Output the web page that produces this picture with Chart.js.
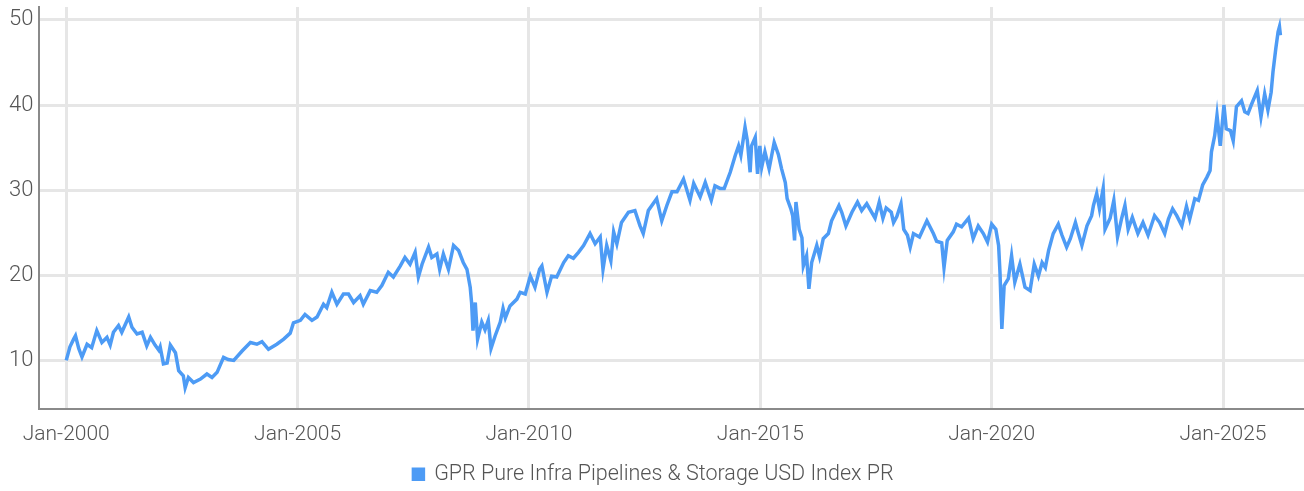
<!DOCTYPE html>
<html>
<head>
<meta charset="utf-8">
<script src="https://cdn.jsdelivr.net/npm/chart.js@4.4.1/dist/chart.umd.min.js"></script>
<style>
  html, body { margin: 0; padding: 0; background: #fff; }
  #wrap { width: 1304px; height: 491px; }
</style>
</head>
<body>
<div id="wrap"><canvas id="chart-line" width="1304" height="491"></canvas></div>
<script>
// Datos (año decimal, valor del índice)
const seriesName = 'GPR Pure Infra Pipelines & Storage USD Index PR';

const years = [
  2000.00, 2000.08, 2000.16, 2000.20, 2000.27, 2000.34, 2000.45, 2000.55, 2000.66, 2000.77, 2000.88, 2000.95,
  2001.02, 2001.13, 2001.20, 2001.35, 2001.42, 2001.53, 2001.64, 2001.74, 2001.82, 2001.92,
  2002.00, 2002.03, 2002.10, 2002.18, 2002.25, 2002.36, 2002.43, 2002.53, 2002.57, 2002.64, 2002.75, 2002.90,
  2003.04, 2003.15, 2003.26, 2003.40, 2003.50, 2003.62, 2003.80, 2003.98,
  2004.12, 2004.23, 2004.37, 2004.55, 2004.70, 2004.84, 2004.91,
  2005.06, 2005.16, 2005.31, 2005.42, 2005.56, 2005.63, 2005.74, 2005.85, 2005.99,
  2006.10, 2006.21, 2006.35, 2006.42, 2006.57, 2006.71, 2006.82, 2006.96,
  2007.07, 2007.22, 2007.32, 2007.43, 2007.54, 2007.61, 2007.69, 2007.83, 2007.90,
  2008.01, 2008.07, 2008.15, 2008.26, 2008.37, 2008.48, 2008.58, 2008.66, 2008.73, 2008.76, 2008.79, 2008.84, 2008.89, 2008.98,
  2009.05, 2009.12, 2009.18, 2009.27, 2009.38, 2009.44, 2009.49, 2009.59, 2009.74, 2009.81, 2009.92,
  2010.03, 2010.13, 2010.23, 2010.28, 2010.39, 2010.49, 2010.60, 2010.75, 2010.85, 2010.96,
  2011.07, 2011.18, 2011.32, 2011.43, 2011.54, 2011.60, 2011.68, 2011.77, 2011.83, 2011.90,
  2012.00, 2012.15, 2012.29, 2012.40, 2012.47, 2012.58, 2012.76, 2012.87, 2012.98,
  2013.09, 2013.20, 2013.34, 2013.48, 2013.56, 2013.70, 2013.81, 2013.94,
  2014.02, 2014.13, 2014.22, 2014.35, 2014.46, 2014.53, 2014.58, 2014.67, 2014.72, 2014.78, 2014.81, 2014.89, 2014.94, 2014.99,
  2015.03, 2015.10, 2015.19, 2015.30, 2015.39, 2015.46, 2015.54, 2015.58, 2015.66, 2015.70, 2015.74, 2015.77, 2015.84, 2015.90, 2015.93,
  2016.00, 2016.05, 2016.11, 2016.22, 2016.28, 2016.36, 2016.47, 2016.54, 2016.70, 2016.76, 2016.85, 2016.98,
  2017.10, 2017.19, 2017.30, 2017.48, 2017.57, 2017.65, 2017.72, 2017.83, 2017.88, 2017.95,
  2018.04, 2018.10, 2018.18, 2018.24, 2018.31, 2018.44, 2018.60, 2018.74, 2018.81, 2018.92, 2018.97,
  2019.04, 2019.17, 2019.24, 2019.35, 2019.50, 2019.60, 2019.71, 2019.82, 2019.91,
  2020.00, 2020.09, 2020.15, 2020.18, 2020.22, 2020.27, 2020.36, 2020.43, 2020.50, 2020.61, 2020.72, 2020.83, 2020.92,
  2021.01, 2021.09, 2021.16, 2021.23, 2021.33, 2021.44, 2021.52, 2021.62, 2021.70, 2021.81, 2021.86, 2021.95,
  2022.06, 2022.16, 2022.20, 2022.27, 2022.33, 2022.41, 2022.45, 2022.56, 2022.64, 2022.72, 2022.81, 2022.88, 2022.95,
  2023.04, 2023.16, 2023.27, 2023.38, 2023.52, 2023.63, 2023.74, 2023.82, 2023.91,
  2024.00, 2024.11, 2024.21, 2024.28, 2024.39, 2024.47, 2024.56, 2024.65, 2024.72, 2024.75, 2024.82, 2024.87, 2024.94,
  2025.02, 2025.07, 2025.16, 2025.22, 2025.29, 2025.40, 2025.47, 2025.54, 2025.61, 2025.74, 2025.82, 2025.90, 2025.97,
  2026.04, 2026.08, 2026.14, 2026.19, 2026.22, 2026.24
];

const values = [
  10.0, 11.6, 12.5, 12.9, 11.4, 10.4, 11.9, 11.5, 13.5, 12.1, 12.7, 11.8,
  13.3, 14.1, 13.3, 15.1, 13.9, 13.1, 13.3, 11.7, 12.7, 11.8,
  11.2, 11.6, 9.6, 9.7, 11.8, 10.9, 8.8, 8.2, 6.8, 8.0, 7.4, 7.8,
  8.4, 8.0, 8.6, 10.35, 10.1, 10.0, 11.1, 12.1,
  11.9, 12.2, 11.3, 11.9, 12.5, 13.2, 14.4,
  14.7, 15.4, 14.7, 15.1, 16.6, 16.2, 18.0, 16.6, 17.8,
  17.8, 16.8, 17.6, 16.6, 18.2, 18.0, 18.8, 20.35,
  19.8, 21.1, 22.1, 21.3, 22.7, 19.8, 21.3, 23.3, 22.1,
  22.5, 20.7, 22.5, 20.7, 23.5, 22.9, 21.5, 20.7, 18.6, 16.8, 13.5, 16.8, 12.5, 14.5,
  13.6, 14.7, 11.4, 12.9, 14.5, 16.1, 15.0, 16.4, 17.2, 18.0, 17.8,
  19.9, 18.6, 20.7, 21.1, 18.0, 19.9, 19.8, 21.5, 22.3, 22.0,
  22.7, 23.5, 24.9, 23.7, 24.5, 20.7, 23.5, 21.7, 25.1, 23.7,
  26.2, 27.4, 27.6, 25.8, 24.9, 27.6, 29.0, 26.4, 28.2,
  29.8, 29.8, 31.3, 28.8, 30.8, 29.2, 30.9, 28.8,
  30.5, 30.2, 30.2, 32.1, 34.1, 35.2, 34.1, 37.4, 35.8, 32.1, 35.2, 36.2, 31.9, 35.2,
  32.7, 34.5, 32.5, 35.6, 34.2, 32.5, 30.9, 29.0, 27.8, 27.0, 24.1, 28.6, 25.4, 24.4, 21.1,
  22.3, 18.4, 21.5, 23.5, 22.2, 24.3, 24.9, 26.4, 28.2, 27.4, 25.8, 27.4,
  28.6, 27.6, 28.4, 26.7, 28.6, 26.7, 27.9, 27.4, 26.2, 26.9,
  28.4, 25.4, 24.7, 23.3, 24.9, 24.5, 26.4, 24.9, 24.0, 23.8, 20.9,
  24.1, 25.1, 26.0, 25.7, 26.7, 24.3, 25.8, 24.9, 23.9,
  26.0, 25.4, 23.5, 20.3, 13.7, 18.8, 19.6, 22.3, 19.2, 21.3, 18.6, 18.2, 21.3,
  19.9, 21.5, 20.9, 22.9, 24.9, 26.0, 24.7, 23.3, 24.3, 26.2, 25.2, 23.5,
  25.8, 27.0, 28.2, 29.6, 27.8, 30.2, 25.4, 26.7, 28.8, 24.5, 26.7, 28.2, 25.4,
  26.8, 24.9, 26.2, 24.7, 27.0, 26.2, 24.9, 26.6, 27.8,
  27.0, 25.8, 28.1, 26.6, 29.0, 28.8, 30.6, 31.5, 32.3, 34.5, 36.4, 38.8, 35.2,
  40.0, 37.2, 37.0, 35.8, 39.8, 40.5, 39.2, 39.0, 40.0, 41.7, 38.6, 41.3, 39.4,
  41.5, 43.9, 46.6, 48.6, 49.2, 48.2
];

// Marcas de los ejes
const xTickYears = [2000, 2005, 2010, 2015, 2020, 2025];
const yTickValues = [10, 20, 30, 40, 50];

const puntos = years.map((y, i) => ({ x: y, y: values[i] }));

const fuente = "Roboto";
const colorTexto = '#555555';

const ctx = document.getElementById('chart-line').getContext('2d');
const chartLine = new Chart(ctx, {
    type: 'line',
    data: {
        datasets: [{
            label: seriesName,
            data: puntos,
            borderColor: '#4d9bf5',
            backgroundColor: '#4d9bf5',
            borderWidth: 3.5,
            pointRadius: 0,
            tension: 0,
            fill: false
        }]
    },
    options: {
        responsive: false,
        animation: false,
        devicePixelRatio: 1,
        layout: { padding: { left: 3, right: 0, top: 4, bottom: -4 } },
        plugins: {
            legend: {
                display: true,
                position: 'bottom',
                labels: {
                    boxWidth: 10,
                    boxHeight: 10,
                    color: colorTexto,
                    padding: 3,
                    font: { size: 21.5, family: fuente, weight: 300 }
                }
            },
            tooltip: { enabled: false }
        },
        scales: {
            x: {
                type: 'linear',
                min: 1999.42,
                max: 2026.75,
                afterBuildTicks: axis => { axis.ticks = xTickYears.map(v => ({ value: v })); },
                grid: {
                    display: true,
                    drawOnChartArea: true,
                    drawTicks: false,
                    color: '#e6e6e6',
                    lineWidth: 3
                },
                border: { display: true, color: '#8a8a8a', width: 2 },
                ticks: {
                    color: colorTexto,
                    padding: 8,
                    maxRotation: 0,
                    autoSkip: false,
                    font: { size: 21, family: fuente, weight: 300, lineHeight: 1.714 },
                    callback: v => 'Jan-' + v
                }
            },
            y: {
                min: 4.35,
                max: 51.5,
                afterBuildTicks: axis => { axis.ticks = yTickValues.map(v => ({ value: v })); },
                grid: {
                    display: true,
                    drawOnChartArea: true,
                    drawTicks: false,
                    color: '#e6e6e6',
                    lineWidth: 3
                },
                border: { display: true, color: '#8a8a8a', width: 2 },
                ticks: {
                    color: colorTexto,
                    padding: 6,
                    font: { size: 22, family: fuente, weight: 300, lineHeight: 0.1 }
                }
            }
        }
    }
});
</script>
</body>
</html>
